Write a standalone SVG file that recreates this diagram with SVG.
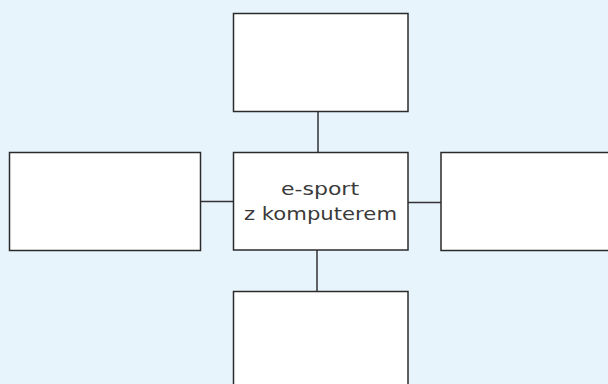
<svg xmlns="http://www.w3.org/2000/svg" width="608" height="384" viewBox="0 0 608 384">
<style>
.box{fill:#ffffff;stroke:#2b2b2b;stroke-width:1.5}
.conn{stroke:#333333;stroke-width:1.5;fill:none}
.lbl{font-family:"DejaVu Sans","Liberation Sans",sans-serif;font-weight:400;font-size:18px;fill:#3a3a3a;text-anchor:middle}
</style>
<rect width="608" height="384" fill="#e8f4fc"/>
<g id="connectors">
<line class="conn" x1="318" y1="111.5" x2="318" y2="152.5"/>
<line class="conn" x1="317" y1="250" x2="317" y2="291.5"/>
<line class="conn" x1="200.5" y1="201.5" x2="233.5" y2="201.5"/>
<line class="conn" x1="408" y1="202.5" x2="441" y2="202.5"/>
</g>
<g id="top"><rect class="box" x="233.5" y="13.5" width="174.5" height="98"/></g>
<g id="left"><rect class="box" x="9.5" y="152.5" width="191" height="98"/></g>
<g id="center"><rect class="box" x="233.5" y="152.5" width="174.5" height="97.5"/>
<text class="lbl" x="320" y="195" textLength="78" lengthAdjust="spacingAndGlyphs">e-sport</text>
<text class="lbl" x="320.5" y="220" textLength="153" lengthAdjust="spacingAndGlyphs">z komputerem</text></g>
<g id="right"><rect class="box" x="441" y="152.5" width="180" height="98"/></g>
<g id="bottom"><rect class="box" x="233.5" y="291.5" width="174.5" height="110"/></g>
</svg>
